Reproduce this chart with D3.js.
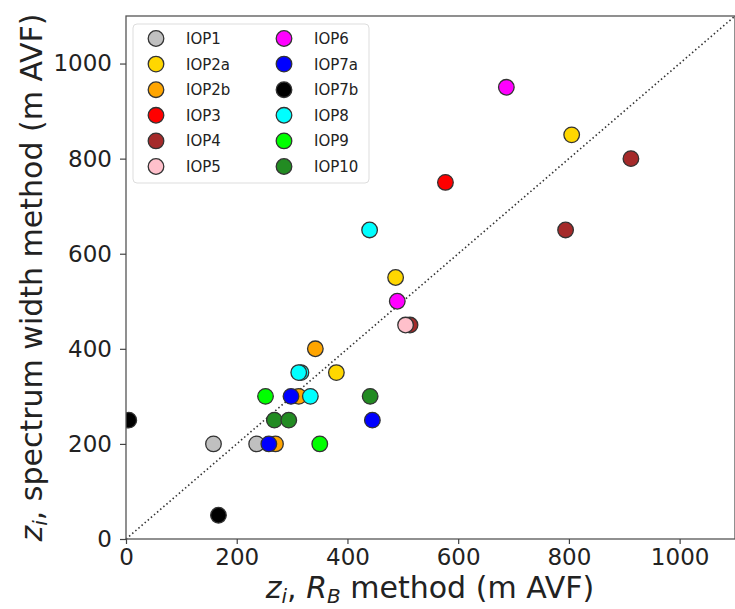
<!DOCTYPE html>
<html>
<head>
<meta charset="utf-8">
<script src="https://cdn.jsdelivr.net/npm/d3@7"></script>
<style>
  body { margin: 0; background: #fff; }
  text { font-family: "DejaVu Sans", sans-serif; }
</style>
</head>
<body>
<svg id="chart" width="735" height="609"></svg>
<script>
// Series names and colours (legend order)
const series = ["IOP1", "IOP2a", "IOP2b", "IOP3", "IOP4", "IOP5",
                "IOP6", "IOP7a", "IOP7b", "IOP8", "IOP9", "IOP10"];
const colors = ["#c0c0c0", "#ffd700", "#ffa500", "#ff0000", "#a52a2a", "#ffc0cb",
                "#ff00ff", "#0000ff", "#000000", "#00ffff", "#00ff00", "#228b22"];

// zi from the RB method (x) and from the spectrum width method (y), per IOP
const rbValues = {
    IOP1:  [158, 236],
    IOP2a: [805, 487, 380],
    IOP2b: [270, 312, 342],
    IOP3:  [577],
    IOP4:  [912, 794, 513],
    IOP5:  [505],
    IOP6:  [687, 490],
    IOP7a: [258, 298, 445],
    IOP7b: [5, 167],
    IOP8:  [316, 440, 312, 333],
    IOP9:  [252, 350],
    IOP10: [268, 294, 441]
};
const swValues = {
    IOP1:  [200, 200],
    IOP2a: [850, 550, 350],
    IOP2b: [200, 300, 400],
    IOP3:  [750],
    IOP4:  [800, 650, 450],
    IOP5:  [450],
    IOP6:  [950, 500],
    IOP7a: [200, 300, 250],
    IOP7b: [250, 50],
    IOP8:  [350, 650, 350, 300],
    IOP9:  [300, 200],
    IOP10: [250, 250, 300]
};
const ticks = [0, 200, 400, 600, 800, 1000];
const axisMax = 1100;

const svg = d3.select("#chart");
const margin = { top: 16, right: 0, bottom: 70, left: 126 };
const width = 735, height = 609;

const x = d3.scaleLinear().domain([0, axisMax]).range([margin.left, width - margin.right]);
const y = d3.scaleLinear().domain([0, axisMax]).range([height - margin.bottom, margin.top]);

// clip to the axes box
svg.append("clipPath").attr("id", "clip")
  .append("rect")
    .attr("x", x(0)).attr("y", y(axisMax))
    .attr("width", x(axisMax) - x(0)).attr("height", y(0) - y(axisMax));

// 1:1 dotted line
svg.append("line")
    .attr("x1", x(0)).attr("y1", y(0))
    .attr("x2", x(axisMax)).attr("y2", y(axisMax))
    .attr("stroke", "#333")
    .attr("stroke-width", 1.6)
    .attr("stroke-dasharray", "1.5,2.6");

// points
const pts = [];
series.forEach((s, i) => {
    rbValues[s].forEach((v, j) => pts.push({ s, c: colors[i], x: v, y: swValues[s][j] }));
});
svg.append("g")
    .attr("clip-path", "url(#clip)")
  .selectAll("circle")
  .data(pts)
  .enter()
  .append("circle")
    .attr("cx", d => x(d.x))
    .attr("cy", d => y(d.y))
    .attr("r", 7.8)
    .attr("fill", d => d.c)
    .attr("stroke", "#333")
    .attr("stroke-width", 1.3);

// box (spines)
svg.append("rect")
    .attr("x", x(0)).attr("y", y(axisMax))
    .attr("width", x(axisMax) - x(0)).attr("height", y(0) - y(axisMax))
    .attr("fill", "none")
    .attr("stroke", "#555")
    .attr("stroke-width", 1.3);

// axes
const xAxis = svg.append("g")
    .attr("transform", `translate(0,${y(0)})`)
    .call(d3.axisBottom(x).tickValues(ticks).tickFormat(d3.format("d"))
        .tickSize(5).tickPadding(5).tickSizeOuter(0));
const yAxis = svg.append("g")
    .attr("transform", `translate(${x(0)},0)`)
    .call(d3.axisLeft(y).tickValues(ticks).tickFormat(d3.format("d"))
        .tickSize(6).tickPadding(8).tickSizeOuter(0));
[xAxis, yAxis].forEach(g => {
    g.select(".domain").remove();
    g.selectAll("line").attr("stroke", "#444").attr("stroke-width", 1.2);
    g.selectAll("text")
        .attr("font-family", "DejaVu Sans, sans-serif")
        .attr("font-size", "23px")
        .attr("fill", "#222");
});

// axis labels
const xl = svg.append("text")
    .attr("x", 430).attr("y", 598)
    .attr("text-anchor", "middle")
    .attr("font-size", "30px")
    .attr("fill", "#222");
xl.append("tspan").attr("font-style", "italic").text("z");
xl.append("tspan").attr("font-style", "italic").attr("font-size", "20px").attr("dy", 5).text("i");
xl.append("tspan").attr("dy", -5).text(", ");
xl.append("tspan").attr("font-style", "italic").text("R");
xl.append("tspan").attr("font-style", "italic").attr("font-size", "20px").attr("dy", 5).text("B");
xl.append("tspan").attr("dy", -5).text(" method (m AVF)");

const yl = svg.append("text")
    .attr("transform", `translate(42,${(y(0) + y(axisMax)) / 2}) rotate(-90)`)
    .attr("text-anchor", "middle")
    .attr("font-size", "30px")
    .attr("fill", "#222");
yl.append("tspan").attr("font-style", "italic").text("z");
yl.append("tspan").attr("font-style", "italic").attr("font-size", "20px").attr("dy", 5).text("i");
yl.append("tspan").attr("dy", -5).text(", spectrum width method (m AVF)");

// legend
const legend = svg.append("g");
legend.append("rect")
    .attr("x", 133).attr("y", 24)
    .attr("width", 236).attr("height", 159)
    .attr("rx", 4)
    .attr("fill", "#fff")
    .attr("fill-opacity", 0.8)
    .attr("stroke", "#ddd");
series.forEach((s, i) => {
    const col = Math.floor(i / 6), row = i % 6;
    const gx = 156 + col * 128, gy = 38.5 + row * 25.6;
    legend.append("circle")
        .attr("cx", gx).attr("cy", gy).attr("r", 7.8)
        .attr("fill", colors[i])
        .attr("stroke", "#333")
        .attr("stroke-width", 1.3);
    legend.append("text")
        .attr("x", gx + 30).attr("y", gy + 5.5)
        .attr("font-size", "15px")
        .attr("fill", "#222")
        .text(s);
});
</script>
</body>
</html>
